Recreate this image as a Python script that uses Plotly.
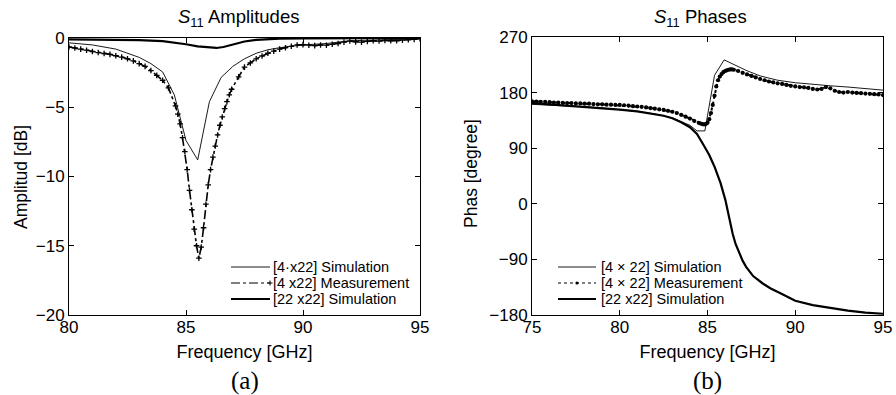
import plotly.graph_objects as go

# ---------------- data: (a) S11 amplitudes ----------------
amp_sim4_f = [80, 81, 82, 83, 83.5, 84, 84.5, 85.0, 85.5, 86.0, 86.5, 87, 87.5, 88, 88.5, 89, 90, 91, 92, 93, 94, 95]
amp_sim4_db = [-0.35, -0.5, -0.8, -1.4, -1.85, -2.45, -4.1, -7.4, -8.8, -4.6, -2.85, -2.05, -1.5, -1.1, -0.85, -0.7,
               -0.5, -0.4, -0.2, -0.15, -0.1, -0.05]

amp_meas_f = [80, 80.25, 80.5, 80.75, 81, 81.25, 81.5, 81.75, 82, 82.25, 82.5, 82.75, 83, 83.25, 83.5, 83.75, 84, 84.25,
              84.55, 84.65, 84.75, 84.85, 84.95, 85.05, 85.15, 85.25, 85.35, 85.45, 85.55, 85.65, 85.75, 85.85, 85.95,
              86.05, 86.15, 86.25, 86.35, 86.45, 86.55, 86.65, 86.75, 86.85, 86.95,
              87.25, 87.5, 87.75, 88, 88.25, 88.5, 88.75, 89, 89.25, 89.5, 89.75, 90, 90.25, 90.5, 90.75, 91, 91.25,
              91.5, 91.75, 92, 92.25, 92.5, 92.75, 93, 93.25, 93.5, 93.75, 94, 94.25, 94.5, 94.75, 95]
amp_meas_db = [-0.65, -0.72, -0.8, -0.88, -0.98, -1.05, -1.12, -1.18, -1.28, -1.38, -1.5, -1.65, -1.85, -2.05, -2.35,
               -2.7, -3.05, -3.6,
               -4.9, -5.5, -6.2, -7.2, -8.2, -9.5, -11.0, -12.4, -13.8, -15.0, -15.9, -15.1, -13.7, -12.0, -10.6,
               -9.5, -8.6, -7.8, -7.0, -6.3, -5.7, -5.1, -4.6, -4.1, -3.7,
               -2.8, -2.1, -1.8, -1.5, -1.3, -1.1, -0.95, -0.8, -0.7, -0.6, -0.5, -0.48, -0.52, -0.55, -0.5, -0.52,
               -0.45, -0.4, -0.3, -0.22, -0.28, -0.3, -0.25, -0.2, -0.22, -0.18, -0.2, -0.2, -0.15, -0.12, -0.1, -0.05]

amp_sim22_f = [80, 81, 82, 83, 84, 84.5, 85, 85.5, 86, 86.3, 86.6, 87, 87.5, 88, 88.5, 89, 90, 92, 95]
amp_sim22_db = [-0.1, -0.1, -0.12, -0.15, -0.22, -0.32, -0.45, -0.6, -0.7, -0.72, -0.65, -0.45, -0.25, -0.14, -0.08,
                -0.04, -0.02, -0.01, 0.0]

# ---------------- data: (b) S11 phases ----------------
ph_sim4_f = [75, 76, 77, 78, 79, 80, 81, 82, 83, 84, 84.4, 84.85, 85.4, 85.95, 86.5, 87.2, 88, 89, 90, 91, 92, 93, 94, 95]
ph_sim4_deg = [161, 160, 158.5, 157, 155, 152.5, 149.5, 145.5, 139, 127, 118, 118, 208, 233, 225, 216, 207, 200, 196,
               193, 191, 189, 186.5, 184]

ph_meas_f = [75, 75.25, 75.5, 75.75, 76, 76.25, 76.5, 76.75, 77, 77.25, 77.5, 77.75, 78, 78.25, 78.5, 78.75, 79, 79.25,
             79.5, 79.75, 80, 80.25, 80.5, 80.75, 81, 81.25, 81.5, 81.75, 82, 82.25, 82.5, 82.75, 83, 83.25, 83.5,
             83.75, 84, 84.25, 84.5,
             84.6, 84.7, 84.8, 84.9, 85.0, 85.1, 85.2, 85.3, 85.4, 85.5, 85.6, 85.7, 85.8, 85.9, 86.0, 86.1, 86.2, 86.3,
             86.4, 86.5,
             86.75, 87, 87.25, 87.5, 87.75, 88, 88.25, 88.5, 88.75, 89, 89.25, 89.5, 89.75, 90, 90.25, 90.5, 90.75, 91,
             91.25, 91.5, 91.75, 92, 92.25, 92.5, 92.75, 93, 93.25, 93.5, 93.75, 94, 94.25, 94.5, 94.75, 95]
ph_meas_deg = [166, 165.5, 165, 165, 164.5, 164, 164, 163.5, 163, 163, 162.5, 162.5, 162, 162, 161.5, 161, 161, 160.5,
               160.5, 160, 160, 159.5, 159, 158, 157.5, 157, 156, 155, 154, 153, 152, 150.5, 149, 147, 144, 141, 138,
               134, 131,
               130, 129, 128.5, 129, 131, 137, 147, 160, 175, 190, 200, 206, 210, 213, 215, 216, 217, 217.5, 217.5, 217,
               215, 212, 209.5, 207, 204.5, 202, 200, 198, 196.5, 195, 194, 192.5, 191, 190, 189, 188.5, 187.5, 186,
               185, 186, 189, 187, 183, 181, 180, 181, 180, 179.5, 179, 178.5, 178, 177.5, 177, 176]

ph_sim22_f = [75, 76, 77, 78, 79, 80, 81, 82, 82.5, 83, 83.5, 84, 84.4, 84.8, 85.1, 85.4, 85.75, 86.02, 86.2, 86.43,
              86.6, 86.8, 87.0, 87.2, 87.6, 88.15, 88.6, 89.1, 90, 91, 92, 93, 94, 95]
ph_sim22_deg = [163, 161, 159, 157, 155, 152.5, 149.5, 145.5, 142.5, 138.5, 132, 124, 113, 94, 79, 60, 33, 6, -18, -48,
                -65, -80, -92, -102, -117, -129, -137, -144, -157, -164, -169, -173, -176, -178]

names_a = ["[4\u00b7x22] Simulation", "[4 x22] Measurement", "[22 x22] Simulation"]
names_b = ["[4 \u00d7 22] Simulation", "[4 \u00d7 22] Measurement", "[22 x22] Simulation"]

amp_yticks = [0, -5, -10, -15, -20]
amp_xticks = [80, 85, 90, 95]
ph_yticks = [270, 180, 90, 0, -90, -180]
ph_xticks = [75, 80, 85, 90, 95]

SANS = "Liberation Sans, Arial, sans-serif"
SERIF = "Liberation Serif, Times New Roman, serif"
W, H = 896, 395


def px(x):
    return x / W


def py(y):
    return 1 - y / H


fig = go.Figure()

# (a)
fig.add_trace(go.Scatter(x=amp_sim4_f, y=amp_sim4_db, mode="lines", name=names_a[0],
                         line=dict(color="black", width=0.9), xaxis="x", yaxis="y"))
fig.add_trace(go.Scatter(x=amp_meas_f, y=amp_meas_db, mode="lines+markers", name=names_a[1],
                         line=dict(color="black", width=1.6, dash="dashdot"),
                         marker=dict(symbol="cross-thin", size=4, line=dict(color="black", width=1.3)),
                         xaxis="x", yaxis="y"))
fig.add_trace(go.Scatter(x=amp_sim22_f, y=amp_sim22_db, mode="lines", name=names_a[2],
                         line=dict(color="black", width=2.2), xaxis="x", yaxis="y"))

# (b)
fig.add_trace(go.Scatter(x=ph_sim4_f, y=ph_sim4_deg, mode="lines", name=names_b[0],
                         line=dict(color="black", width=0.9), xaxis="x2", yaxis="y2"))
fig.add_trace(go.Scatter(x=ph_meas_f, y=ph_meas_deg, mode="lines+markers", name=names_b[1],
                         line=dict(color="black", width=2, dash="dot"),
                         marker=dict(symbol="circle", size=4.2, color="black"),
                         xaxis="x2", yaxis="y2"))
fig.add_trace(go.Scatter(x=ph_sim22_f, y=ph_sim22_deg, mode="lines", name=names_b[2],
                         line=dict(color="black", width=2.2), xaxis="x2", yaxis="y2"))

axis_common = dict(showline=True, linecolor="black", linewidth=1, mirror="allticks", ticks="inside",
                   ticklen=5, tickcolor="black", showgrid=False, zeroline=False, automargin=False,
                   tickfont=dict(family=SANS, size=17, color="black"))
xtitle_font = dict(family=SANS, size=18, color="black")

# ---- manual legends (rows spaced as in the reference) ----
shapes = []
annotations = []
leg_rows = [267, 283, 299]


def add_legend(x0, x1, xtext, labels, meas_style):
    shapes.append(dict(type="line", xref="paper", yref="paper", x0=px(x0), x1=px(x1),
                       y0=py(leg_rows[0]), y1=py(leg_rows[0]), line=dict(color="black", width=0.9)))
    if meas_style == "a":
        shapes.append(dict(type="line", xref="paper", yref="paper", x0=px(x0), x1=px(x1),
                           y0=py(leg_rows[1]), y1=py(leg_rows[1]),
                           line=dict(color="black", width=1, dash="dashdot")))
        cx, cy = x1, leg_rows[1]
        shapes.append(dict(type="path", xref="paper", yref="paper",
                           path=f"M{px(cx-2.5)},{py(cy)} L{px(cx+2.5)},{py(cy)} M{px(cx)},{py(cy-2.5)} L{px(cx)},{py(cy+2.5)}",
                           line=dict(color="black", width=1)))
    else:
        shapes.append(dict(type="line", xref="paper", yref="paper", x0=px(x0), x1=px(x1),
                           y0=py(leg_rows[1]), y1=py(leg_rows[1]),
                           line=dict(color="black", width=1, dash="dot")))
        cx, cy = (x0 + x1) / 2, leg_rows[1]
        shapes.append(dict(type="circle", xref="paper", yref="paper", x0=px(cx-1.6), x1=px(cx+1.6),
                           y0=py(cy+1.6), y1=py(cy-1.6), fillcolor="black", line=dict(color="black", width=0)))
    shapes.append(dict(type="line", xref="paper", yref="paper", x0=px(x0), x1=px(x1),
                       y0=py(leg_rows[2]), y1=py(leg_rows[2]), line=dict(color="black", width=2.2)))
    for r, lab in zip(leg_rows, labels):
        annotations.append(dict(text=lab, x=px(xtext), y=py(r), xref="paper", yref="paper", showarrow=False,
                                xanchor="left", yanchor="middle",
                                font=dict(family=SANS, size=14.5, color="black")))


add_legend(231, 270, 271, names_a, "a")
add_legend(558, 596, 599, names_b, "b")

annotations += [
    dict(text="<i>S</i><sub>11</sub> Amplitudes", x=px(238), y=py(18), xref="paper", yref="paper",
         showarrow=False, xanchor="center", yanchor="middle", font=dict(family=SANS, size=18.5, color="black")),
    dict(text="<i>S</i><sub>11</sub> Phases", x=px(700), y=py(18), xref="paper", yref="paper",
         showarrow=False, xanchor="center", yanchor="middle", font=dict(family=SANS, size=18.5, color="black")),
    dict(text="Amplitud [dB]", x=px(21), y=py(177), xref="paper", yref="paper", textangle=-90,
         showarrow=False, xanchor="center", yanchor="middle", font=dict(family=SANS, size=17.5, color="black")),
    dict(text="Phas [degree]", x=px(471), y=py(174), xref="paper", yref="paper", textangle=-90,
         showarrow=False, xanchor="center", yanchor="middle", font=dict(family=SANS, size=17.5, color="black")),
    dict(text="(a)", x=px(245), y=py(381), xref="paper", yref="paper",
         showarrow=False, xanchor="center", yanchor="middle", font=dict(family=SERIF, size=25, color="black")),
    dict(text="(b)", x=px(707), y=py(381), xref="paper", yref="paper",
         showarrow=False, xanchor="center", yanchor="middle", font=dict(family=SERIF, size=25, color="black")),
]

fig.update_layout(
    width=W, height=H,
    margin=dict(l=0, r=0, t=0, b=0, autoexpand=False),
    paper_bgcolor="white", plot_bgcolor="white",
    showlegend=False,
    xaxis=dict(domain=[px(69), px(420)], range=[80, 95], tickvals=amp_xticks, anchor="y",
               ticklabelstandoff=-3,
               title=dict(text="Frequency [GHz]", font=xtitle_font, standoff=8), **axis_common),
    yaxis=dict(domain=[py(315), py(38)], range=[-20, 0], tickvals=amp_yticks, anchor="x", **axis_common),
    xaxis2=dict(domain=[px(532), px(883)], range=[75, 95], tickvals=ph_xticks, anchor="y2",
                ticklabelstandoff=-3,
                title=dict(text="Frequency [GHz]", font=xtitle_font, standoff=8), **axis_common),
    yaxis2=dict(domain=[py(315), py(37)], range=[-180, 270], tickvals=ph_yticks, anchor="x2", **axis_common),
    shapes=shapes,
    annotations=annotations,
)

fig.write_html("out.html", config={"displayModeBar": False},
               post_script="document.body.style.margin='0px';document.body.style.overflow='hidden';")
